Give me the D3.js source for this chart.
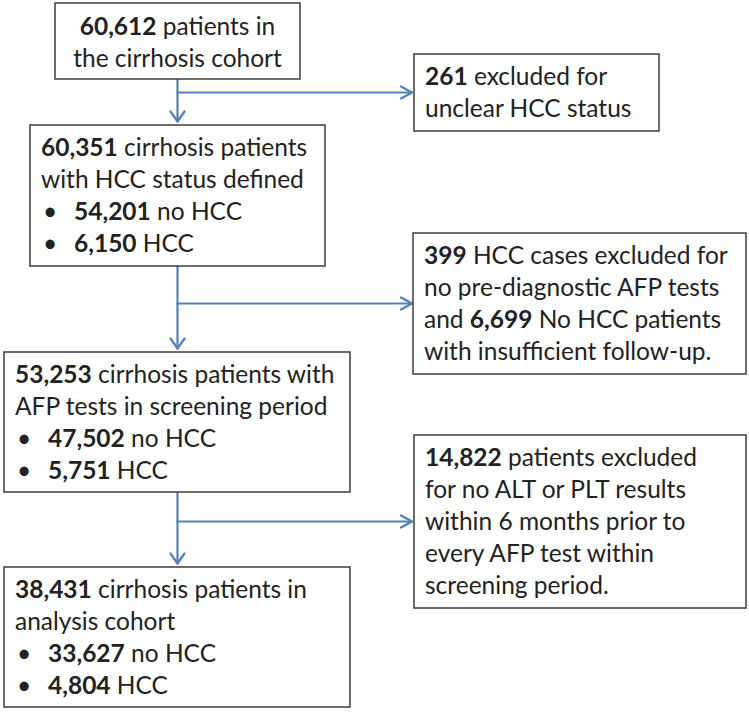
<!DOCTYPE html>
<html><head><meta charset="utf-8">
<script src="https://cdn.jsdelivr.net/npm/d3@7"></script>
<style>body{margin:0;background:#fff}svg{display:block}</style></head>
<body>
<script>
// ---- Data (text content of the flowchart) ----
const cohortLines    = ["**60,612** patients in", "the cirrhosis cohort"];
const definedLines   = ["**60,351** cirrhosis patients", "with HCC status defined"];
const definedBullets = ["**54,201** no HCC", "**6,150** HCC"];
const afpLines       = ["**53,253** cirrhosis patients with", "AFP tests in screening period"];
const afpBullets     = ["**47,502** no HCC", "**5,751** HCC"];
const analysisLines  = ["**38,431** cirrhosis patients in", "analysis cohort"];
const analysisBullets= ["**33,627** no HCC", "**4,804** HCC"];
const excl1Lines     = ["**261** excluded for", "unclear HCC status"];
const excl2Lines     = ["**399** HCC cases excluded for", "no pre-diagnostic AFP tests", "and **6,699** No HCC patients", "with insufficient follow-up."];
const excl3Lines     = ["**14,822** patients excluded", "for no ALT or PLT results", "within 6 months prior to", "every AFP test within", "screening period."];

// ---- Layout ----
const W = 749, H = 712;
const FONT = "Lato, 'Open Sans', sans-serif";
const FS = 24.5, LH = 32;
const TEXT = "#222", BORDER = "#3c3c3c", ARROW = "#4f81bd";

const boxes = [
  {x:55,  y:3,   w:245, h:76,  lines:cohortLines,   bullets:[], center:true},
  {x:30,  y:125, w:295, h:141, lines:definedLines,  bullets:definedBullets},
  {x:4,   y:352, w:346, h:140, lines:afpLines,      bullets:afpBullets},
  {x:4,   y:567, w:346, h:140, lines:analysisLines, bullets:analysisBullets},
  {x:414, y:54,  w:245, h:77,  lines:excl1Lines,    bullets:[]},
  {x:413, y:233, w:333, h:141, lines:excl2Lines,    bullets:[]},
  {x:414, y:435, w:332, h:173, lines:excl3Lines,    bullets:[]}
];

const svg = d3.select("body").append("svg").attr("width", W).attr("height", H);
svg.append("rect").attr("width", W).attr("height", H).attr("fill", "#fff");

function parse(str){
  return str.split(/(\*\*[^*]+\*\*)/).filter(s => s.length).map(s =>
    s.startsWith("**") ? {t:s.slice(2,-2), b:true} : {t:s, b:false});
}

// Arrows
const spineX = 177.5, tipX = 412;
const links = [
  {from:boxes[0], to:boxes[1], side:boxes[4]},
  {from:boxes[1], to:boxes[2], side:boxes[5]},
  {from:boxes[2], to:boxes[3], side:boxes[6]}
];
const ag = svg.append("g").attr("stroke", ARROW).attr("stroke-width", 2.2)
  .attr("fill", "none").attr("stroke-linecap", "round").attr("stroke-linejoin", "round");
links.forEach(l => {
  const y0 = l.from.y + l.from.h, y1 = l.to.y - 3.5;
  const yb = l.side.y + l.side.h / 2;
  ag.append("path").attr("d", `M${spineX},${y0}V${y1}`);
  ag.append("path").attr("d", `M${spineX-7},${y1-10}L${spineX},${y1}L${spineX+7},${y1-10}`);
  ag.append("path").attr("d", `M${spineX},${yb}H${tipX}`);
  ag.append("path").attr("d", `M${tipX-11},${yb-6}L${tipX},${yb}L${tipX-11},${yb+6}`);
});

// Boxes
boxes.forEach(b => {
  const g = svg.append("g");
  g.append("rect").attr("x", b.x).attr("y", b.y).attr("width", b.w).attr("height", b.h)
    .attr("fill", "#fff").attr("stroke", BORDER).attr("stroke-width", 1.5);
  const tx = b.center ? b.x + b.w/2 : b.x + 11;
  let by = b.y + (b.center ? 32 : 31);
  const all = b.lines.map(s => ({s, bullet:false})).concat(b.bullets.map(s => ({s, bullet:true})));
  all.forEach((ln, i) => {
    const y = by + i * LH;
    if (ln.bullet) {
      g.append("text").attr("x", tx + 2).attr("y", y).attr("font-family", FONT)
        .attr("font-size", FS).attr("fill", TEXT).text("\u2022");
    }
    const t = g.append("text").attr("x", ln.bullet ? tx + 33 : tx).attr("y", y)
      .attr("font-family", FONT).attr("font-size", FS).attr("fill", TEXT)
      .attr("text-anchor", b.center ? "middle" : "start");
    parse(ln.s).forEach(p => t.append("tspan").attr("font-weight", p.b ? 700 : 400).text(p.t));
  });
});
</script>
</body></html>
